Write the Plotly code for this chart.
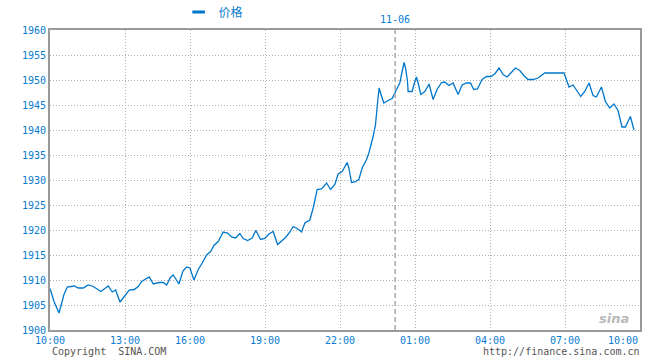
import plotly.graph_objects as go

# x position in chart time-slots (25 slots = 1 hour of the chart's compressed time axis), starting at 10:00
t = [0, 4, 9, 12.3, 14, 17.3, 24.3, 28.3, 33.3, 38.3, 43.3, 51, 58.3, 62.3, 65.7, 70, 75, 79.3, 84.3,
     88.3, 91.7, 95.7, 99.3, 103.3, 109.3, 113.3, 116.7, 120.5, 123.3, 129, 133, 136.7, 140, 144, 148.3,
     152.3, 156.7, 160.7, 164, 168.3, 173.3, 177.7, 181.7, 185.7, 190, 193.3, 197.7, 202.3, 206, 210.7,
     215, 219, 223.3, 227.7, 231.7, 235.7, 240, 243.3, 247.3, 251.7, 255, 260, 263.3, 267.3, 271.7,
     276.7, 280.7, 285, 288.3, 292.3, 297.3, 299, 301.7, 305, 309, 312.3, 316.7, 319, 323.3, 325.7,
     327.7, 329.3, 330.7, 334, 338.3, 342.3, 346.7, 350, 352.3, 354.3, 355.7, 357.7, 358.3, 362.3, 365,
     366.7, 368.3, 371, 375, 379.3, 383.3, 387.3, 391.7, 395, 399, 403.3, 408.3, 412.3, 416.7, 420.7,
     424, 427.7, 432.3, 436.7, 441, 445, 449.3, 453.3, 457.3, 461.7, 465.7, 470, 474, 478.3, 483.3,
     488.3, 491.7, 495, 514.3, 516.7, 519.3, 523.3, 527.3, 531, 535, 539.3, 543.3, 546.7, 551.7, 555.7,
     560, 564.3, 568.3, 572.3, 575.7, 580.7, 584.3]

price = [1908.3, 1905.7, 1903.4, 1906.1, 1907.1, 1908.6, 1908.8, 1908.4, 1908.4, 1909.0, 1908.7, 1907.7,
         1908.8, 1907.6, 1908.0, 1905.6, 1906.9, 1908.0, 1908.1, 1908.7, 1909.7, 1910.1, 1910.6, 1909.2,
         1909.5, 1909.5, 1909.0, 1910.5, 1911.0, 1909.2, 1911.8, 1912.6, 1912.4, 1910.0, 1912.1, 1913.4,
         1915.0, 1915.7, 1916.9, 1917.7, 1919.6, 1919.4, 1918.6, 1918.4, 1919.3, 1918.3, 1917.9, 1918.4,
         1919.9, 1918.1, 1918.3, 1919.2, 1919.7, 1917.1, 1917.9, 1918.5, 1919.6, 1920.7, 1920.3, 1919.6,
         1921.4, 1922.0, 1924.4, 1928.1, 1928.2, 1929.4, 1928.1, 1929.1, 1931.2, 1931.7, 1933.5, 1932.4,
         1929.5, 1929.6, 1930.1, 1932.4, 1934.1, 1935.4, 1938.7, 1941.1, 1945.4, 1948.4, 1947.4, 1945.4,
         1945.9, 1946.3, 1948.1, 1949.4, 1951.7, 1953.5, 1952.4, 1949.7, 1947.7, 1947.7, 1949.7, 1950.6,
         1949.4, 1947.1, 1947.7, 1949.2, 1946.1, 1948.1, 1949.5, 1949.6, 1948.9, 1949.4, 1947.1, 1949.0,
         1949.4, 1949.4, 1948.1, 1948.2, 1950.1, 1950.7, 1950.7, 1951.2, 1952.4, 1951.1, 1950.6, 1951.5,
         1952.4, 1951.9, 1950.9, 1950.1, 1950.1, 1950.4, 1950.9, 1951.4, 1951.4, 1950.1, 1948.6, 1949.0,
         1947.7, 1946.7, 1947.7, 1949.4, 1946.9, 1946.6, 1948.6, 1945.7, 1944.4, 1945.2, 1943.9, 1940.6,
         1940.6, 1942.7, 1940.0]

x_tick_pos = [0, 75.3, 140.3, 215.3, 290.3, 365.3, 440.7, 515.3, 590.3]
x_tick_labels = ["10:00", "13:00", "16:00", "19:00", "22:00", "01:00", "04:00", "07:00", "10:00"]
y_ticks = [1900, 1905, 1910, 1915, 1920, 1925, 1930, 1935, 1940, 1945, 1950, 1955, 1960]
date_break_pos = 345.3
date_break_label = "11-06"
series_name = "价格"

BLUE = "#0a7ccf"
LINE = "#0077cc"
FONT = "DejaVu Sans Mono, Noto Sans CJK SC, monospace"

fig = go.Figure()
fig.add_trace(go.Scatter(x=t, y=price, mode="lines", line=dict(color=LINE, width=1.3),
                         showlegend=False, hoverinfo="skip"))
# legend entry (short thick bar)
fig.add_trace(go.Scatter(x=[None], y=[None], mode="markers", name=series_name,
                         marker=dict(symbol="line-ew", size=9, color=LINE,
                                     line=dict(color=LINE, width=3))))

fig.update_layout(
    width=660, height=360,
    margin=dict(l=50, r=20, t=30, b=30, autoexpand=False),
    paper_bgcolor="white", plot_bgcolor="white",
    font=dict(family=FONT, size=10, color=BLUE),
    showlegend=True,
    legend=dict(orientation="h", x=0.218, y=1.06, xanchor="left", yanchor="middle",
                font=dict(family="Noto Sans CJK SC", size=12, color=BLUE),
                bgcolor="rgba(0,0,0,0)", borderwidth=0),
)

GRID = dict(showgrid=True, gridcolor="#b0b0b0", griddash="1px,2px", gridwidth=1,
            showline=True, linecolor="#9a9a9a", linewidth=2, mirror=True, zeroline=False,
            automargin=False)
fig.update_xaxes(range=[0, x_tick_pos[-1]], tickmode="array", tickvals=x_tick_pos,
                 showticklabels=False, ticks="", **GRID)
fig.update_yaxes(range=[y_ticks[0], y_ticks[-1]], tickmode="array", tickvals=y_ticks,
                 ticks="", tickfont=dict(family=FONT, size=10, color=BLUE), **GRID)

# date break dashed line
fig.add_shape(type="line", xref="x", yref="paper", x0=date_break_pos, x1=date_break_pos, y0=0, y1=1,
              line=dict(color="#a8a8a8", width=1.5, dash="5px,3px"))
fig.add_annotation(x=date_break_pos, y=1.0, xref="x", yref="paper", yanchor="bottom", yshift=3,
                   text=date_break_label, showarrow=False, font=dict(family=FONT, size=10, color=BLUE))

# x tick labels
for i, (pos, lab) in enumerate(zip(x_tick_pos, x_tick_labels)):
    last = i == len(x_tick_pos) - 1
    fig.add_annotation(x=pos, y=0, xref="x", yref="paper", yanchor="top", yshift=-3,
                       xanchor="right" if last else "center", text=lab, showarrow=False,
                       font=dict(family=FONT, size=10, color=BLUE))

# footer
fig.add_annotation(x=0, y=-0.072, xref="paper", yref="paper", xanchor="left", yanchor="middle",
                   text="Copyright  SINA.COM", showarrow=False,
                   font=dict(family=FONT, size=10, color="#555555"))
fig.add_annotation(x=1.003, y=-0.072, xref="paper", yref="paper", xanchor="right", yanchor="middle",
                   text="http://finance.sina.com.cn", showarrow=False,
                   font=dict(family=FONT, size=10, color="#555555"))
# watermark
fig.add_annotation(x=0.985, y=0.04, xref="paper", yref="paper", xanchor="right", yanchor="middle",
                   text="<b><i>sina</i></b>", showarrow=False,
                   font=dict(family="DejaVu Sans", size=13, color="#b8b8b8"))

fig.write_html("out.html", config={"displayModeBar": False},
               post_script="document.body.style.margin='0';")
